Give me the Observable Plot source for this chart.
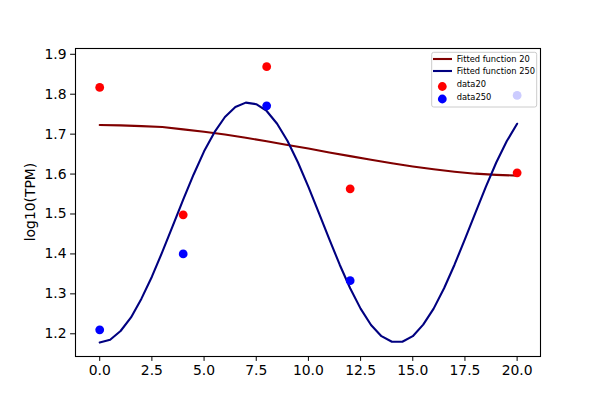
<!DOCTYPE html>
<html>
<head>
<meta charset="utf-8">
<script src="https://cdn.jsdelivr.net/npm/d3@7"></script>
<script src="https://cdn.jsdelivr.net/npm/@observablehq/plot@0.6"></script>
<style>
  body { margin: 0; background: white; }
  #chart svg { display: block; }
</style>
</head>
<body>
<div id="chart"></div>
<script>
// ---- data ----
const tFit250 = [0,0.5,1,1.5,2,2.5,3,3.5,4,4.5,5,5.5,6,6.5,7,7.5,8,8.5,9,9.5,10,10.5,11,11.5,12,12.5,13,13.5,14,14.5,15,15.5,16,16.5,17,17.5,18,18.5,19,19.5,20];
const fit250 = [1.178,1.185,1.207,1.241,1.288,1.343,1.405,1.470,1.536,1.599,
                1.657,1.705,1.743,1.768,1.779,1.775,1.758,1.726,1.683,1.629,
                1.568,1.503,1.437,1.373,1.314,1.263,1.222,1.194,1.180,1.180,
                1.194,1.223,1.263,1.314,1.373,1.437,1.503,1.568,1.629,1.682,1.726];
const tFit20 = [0,1,2,3,4,5,6,7,8,9,10,11,12,13,14,15,16,17,18,19,20];
const fit20 = [1.723,1.722,1.720,1.718,1.712,1.706,1.699,1.691,1.682,1.673,
               1.664,1.654,1.645,1.636,1.627,1.619,1.612,1.606,1.601,1.598,1.596];
const tData = [0,4,8,12,20];
const data20 = [1.817,1.498,1.869,1.563,1.603];
const data250 = [1.210,1.400,1.771,1.333,1.797];
const xTicks = [0,2.5,5,7.5,10,12.5,15,17.5,20];
const yTicks = [1.2,1.3,1.4,1.5,1.6,1.7,1.8,1.9];
const legendLabels = ["Fitted function 20","Fitted function 250","data20","data250"];
const colors = {fit20:"#800000", fit250:"#000080", data20:"#ff0000", data250:"#0000ff"};

const line20 = tFit20.map((t,i)=>({t, v: fit20[i]}));
const line250 = tFit250.map((t,i)=>({t, v: fit250[i]}));
const pts20 = tData.map((t,i)=>({t, v: data20[i]}));
const pts250 = tData.map((t,i)=>({t, v: data250[i]}));

const fmt = d3.format(".1f");
const plot = Plot.plot({
  width: 600, height: 400,
  marginLeft: 75, marginRight: 60, marginTop: 48, marginBottom: 44,
  style: {fontFamily: "DejaVu Sans", fontSize: "13.9px", background: "white", color: "black"},
  x: {domain: [-1.16, 21.12]},
  y: {domain: [1.1431, 1.9145]},
  marks: [
    Plot.axisX({ticks: xTicks, tickFormat: fmt, tickSize: 4.9, tickPadding: 4, label: null, fontSize: 13.9}),
    Plot.axisY({ticks: yTicks, tickFormat: fmt, tickSize: 4.9, tickPadding: 4, label: null, fontSize: 13.9}),
    Plot.line(line20, {x: "t", y: "v", stroke: colors.fit20, strokeWidth: 2.1}),
    Plot.line(line250, {x: "t", y: "v", stroke: colors.fit250, strokeWidth: 2.1}),
    Plot.dot(pts20, {x: "t", y: "v", r: 4.4, fill: colors.data20}),
    Plot.dot(pts250, {x: "t", y: "v", r: 4.4, fill: colors.data250}),
    Plot.frame({stroke: "black", strokeWidth: 1.1})
  ]
});
document.getElementById("chart").appendChild(plot);

const svg = d3.select(plot);
// y-axis label
svg.append("text")
  .attr("transform", "translate(31,202) rotate(-90)")
  .attr("text-anchor", "middle")
  .attr("dominant-baseline", "middle")
  .style("font-family", "DejaVu Sans")
  .style("font-size", "13.9px")
  .attr("fill", "black")
  .text("log10(TPM)");

// legend
const lg = svg.append("g").style("font-family", "DejaVu Sans").style("font-size", "8.3px")
  .attr("text-anchor", "start");
lg.append("rect").attr("x", 431.7).attr("y", 52.3).attr("width", 105).attr("height", 54.7)
  .attr("rx", 2).attr("fill", "white").attr("fill-opacity", 0.8)
  .attr("stroke", "#cccccc").attr("stroke-width", 1);
const rows = [59, 71, 85.5, 98.5];
lg.append("line").attr("x1", 433).attr("x2", 452).attr("y1", rows[0]).attr("y2", rows[0])
  .attr("stroke", colors.fit20).attr("stroke-width", 2.1);
lg.append("line").attr("x1", 433).attr("x2", 452).attr("y1", rows[1]).attr("y2", rows[1])
  .attr("stroke", colors.fit250).attr("stroke-width", 2.1);
lg.append("circle").attr("cx", 442.3).attr("cy", rows[2] + 1).attr("r", 4.4).attr("fill", colors.data20);
lg.append("circle").attr("cx", 442.3).attr("cy", rows[3] + 0.5).attr("r", 4.4).attr("fill", colors.data250);
legendLabels.forEach((s, i) => {
  lg.append("text").attr("x", 456.7).attr("y", rows[i] - (i >= 2 ? 1.5 : 0))
    .attr("text-anchor", "start")
    .attr("dominant-baseline", "middle").attr("fill", "black").text(s);
});
</script>
</body>
</html>
